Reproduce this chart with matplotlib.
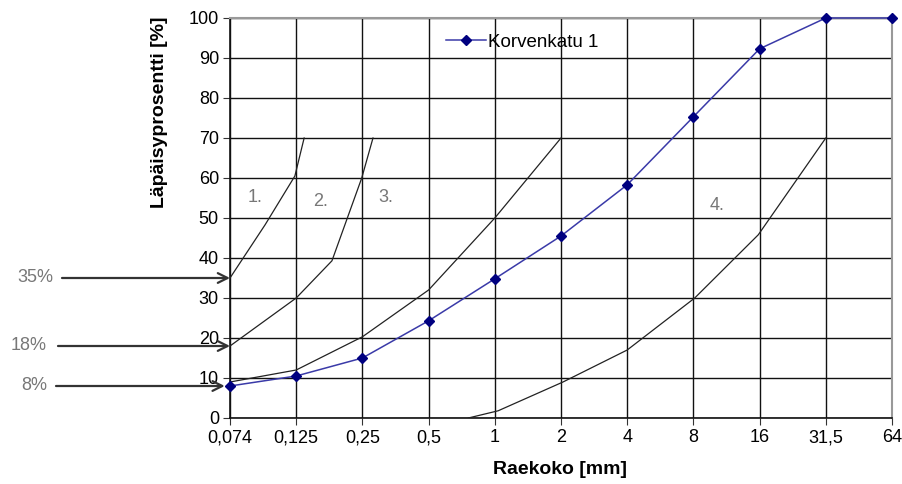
import matplotlib.pyplot as plt
from matplotlib.transforms import blended_transform_factory

plt.rcParams['font.family'] = ['Liberation Sans', 'DejaVu Sans']

# raekoot (x-akselin luokat)
sizes = ["0,074", "0,125", "0,25", "0,5", "1", "2", "4", "8", "16", "31,5", "64"]
# Korvenkatu 1 läpäisyprosentit
korvenkatu = [8, 10.5, 15, 24.3, 34.8, 45.5, 58.3, 75.3, 92.3, 100, 100]

# ohjealueiden rajakäyrät (x = luokan sijainti, y = läpäisy %)
curve1_x = [0, 0.53, 0.98, 1.12]
curve1_y = [35, 48.3, 60.5, 70]
curve2_x = [0, 1.0, 1.54, 1.99, 2.16]
curve2_y = [18, 30, 39.3, 60, 70]
curve3_x = [0, 1.0, 2.0, 3.0, 4.0, 5.0]
curve3_y = [9, 12, 20.3, 32, 50, 70]
curve4_x = [3.6, 4.05, 5.03, 6.0, 7.02, 7.98, 9.0]
curve4_y = [0, 1.8, 9, 17, 30, 45.8, 70]

zone_labels = ["1.", "2.", "3.", "4."]
zone_label_x = [0.38, 1.37, 2.35, 7.35]
zone_label_y = [55, 54, 55, 53]

arrow_values = [35, 18, 8]
arrow_texts = ["35%", "18%", "8%"]

fig = plt.figure(figsize=(9.02, 4.84), dpi=100)
ax = fig.add_axes([230 / 902, 66 / 484, 662 / 902, 400 / 484])

idx = list(range(len(sizes)))

for cx, cy in [(curve1_x, curve1_y), (curve2_x, curve2_y),
               (curve3_x, curve3_y), (curve4_x, curve4_y)]:
    ax.plot(cx, cy, color='#222222', lw=0.9, zorder=3)

ax.plot(idx, korvenkatu, color='#3a3aa8', lw=1.1, marker='D', markersize=5,
        markerfacecolor='#000080', markeredgecolor='#000080',
        label='Korvenkatu 1', zorder=4, clip_on=False)

for t, x, y in zip(zone_labels, zone_label_x, zone_label_y):
    ax.text(x, y, t, color='#777777', fontsize=13, ha='center', va='center')

ax.set_xlim(0, 10)
ax.set_ylim(0, 100)
ax.set_xticks(idx)
ax.set_xticklabels(sizes)
ax.set_yticks(range(0, 101, 10))
ax.tick_params(axis='both', labelsize=13, direction='out', length=5,
               color='#333333', pad=3)
ax.grid(True, color='#111111', lw=1.0)
ax.set_axisbelow(True)
for s in ['top', 'right']:
    ax.spines[s].set_color('#999999')
    ax.spines[s].set_linewidth(1.5)
for s in ['left', 'bottom']:
    ax.spines[s].set_color('#111111')
    ax.spines[s].set_linewidth(1.2)

ax.legend(loc='center left', bbox_to_anchor=(0.327, 0.94), frameon=False,
          borderpad=0, borderaxespad=0, handlelength=2.1, handletextpad=0.1,
          fontsize=13.5)

fig.text(560 / 902, 1 - 470 / 484, "Raekoko [mm]", fontsize=14,
         fontweight='bold', ha='center', va='center')
fig.text(160 / 902, 1 - 112 / 484, "Läpäisyprosentti [%]", fontsize=14,
         fontweight='bold', rotation=90, ha='center', va='center')

# nuolet vasemmalla
tr = blended_transform_factory(fig.transFigure, ax.transData)
arrow_start = [62, 58, 56]
arrow_end = [0, 0, -0.08]
text_x = [35, 29, 34]
for v, t, xs, xe, tx in zip(arrow_values, arrow_texts, arrow_start, arrow_end, text_x):
    ax.annotate("", xy=(xe, v), xycoords='data', xytext=(xs / 902, v),
                textcoords=tr, annotation_clip=False,
                arrowprops=dict(arrowstyle='->,head_length=0.7,head_width=0.35',
                                color='#333333', lw=1.6, shrinkA=0, shrinkB=0))
    ax.text(tx / 902, v, t, transform=tr, fontsize=13, color='#777777',
            ha='center', va='center')

fig.savefig("out.png", dpi=100)
